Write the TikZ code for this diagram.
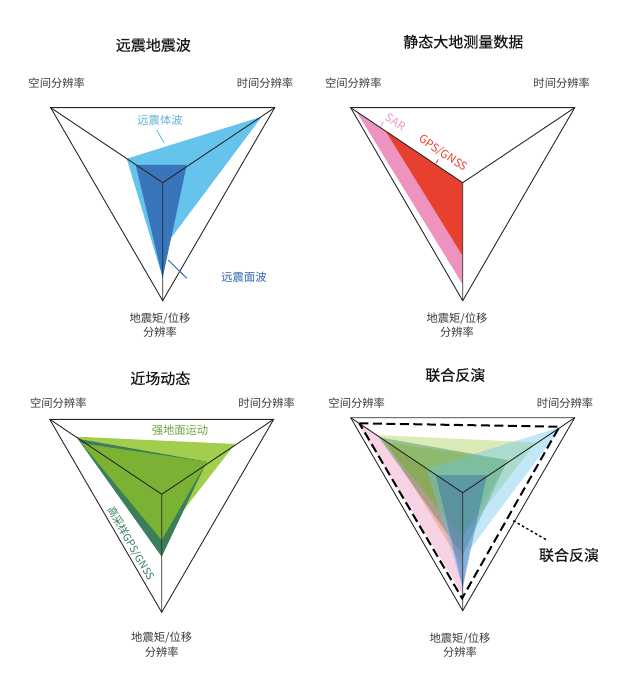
\documentclass[tikz,border=0pt]{standalone}
\usepackage{fontspec}
\setmainfont{Noto Sans CJK SC}
\newfontfamily\titlefont{Noto Sans CJK SC}[FakeBold=0.35]
\usetikzlibrary{calc}

\definecolor{lblue}{HTML}{66C4EC}
\definecolor{dblue}{HTML}{2D62AE}
\definecolor{sarpink}{HTML}{EE92BF}
\definecolor{gpsred}{HTML}{E8402F}
\definecolor{lgreen}{HTML}{A3CD4D}
\definecolor{mgreen}{HTML}{7CB233}
\definecolor{dgreen}{HTML}{3B7F5A}
\definecolor{txtgray}{HTML}{3A3A3A}

% triangle frame with its three spokes, local coordinates
\newcommand{\frametri}[1]{%
  \coordinate (#1tl) at (-112,-75);
  \coordinate (#1tr) at (112,-75);
  \coordinate (#1b) at (0,118);
  \coordinate (#1c) at (0,0);
  \draw[frame] (#1tl) -- (#1tr) -- (#1b) -- cycle;
  \draw[frame] (#1tl) -- (#1c) -- (#1tr) (#1c) -- (#1b);}

\newcommand{\farshapes}[1]{%
  \fill[lblue,#1] (-36,-24) -- (99,-66) -- (7,57) -- (0,95) -- cycle;
  \fill[dblue,fill opacity=0.8,#1] (-27,-17.7) -- (24,-17.7) -- (0,95) -- cycle;}
\newcommand{\geoshapes}[1]{%
  \fill[sarpink,#1] (-106.4,-71.3) -- (-77.3,-51.8) -- (0,73.3) -- (0,101.6) -- cycle;
  \fill[gpsred,#1] (-77.3,-51.8) -- (0,0) -- (0,73.3) -- cycle;}
\newcommand{\nearshapes}[1]{%
  \fill[lgreen,#1] (-85,-57.6) -- (73.3,-50.3) -- (0,44) -- cycle;
  \fill[dgreen,#1] (-84,-55.5) -- (45,-32.6) -- (0,62.4) -- cycle;
  \fill[mgreen,#1] (-80,-51) -- (45,-32.6) -- (0,45.7) -- cycle;}

\begin{document}
\begin{tikzpicture}[x=1pt,y=-1pt,
  frame/.style={line width=0.9pt,draw=black!85},
  title/.style={font=\titlefont\fontsize{15}{18}\selectfont,text=black!90},
  axlab/.style={font=\fontsize{11.3}{14.6}\selectfont,text=txtgray,align=center},
  tag/.style={font=\fontsize{11.3}{13}\selectfont},
  leader/.style={line width=0.9pt}]
\useasboundingbox (0,0) rectangle (641,692);

% panel 1
\begin{scope}[shift={(162.7,182.7)}]
\farshapes{}
\frametri{p1}
\end{scope}
\node[title] (t1) at (153.3,45) {远震地震波};
\node[axlab] (p1sp) at (56.7,83.3) {空间分辨率};
\node[axlab] (p1tm) at (265,83.3) {时间分辨率};
\node[axlab] (p1mo) at (160,325) {地震矩/位移\\分辨率};
\node[tag,text=lblue!90!black] (p1bw) at (160,120) {远震体波};
\node[tag,text=dblue] (p1sw) at (244,277.3) {远震面波};
\coordinate (bwa) at (156.7,130);
\coordinate (bwb) at (164,142.7);
\coordinate (swa) at (168.3,260);
\coordinate (swb) at (186.7,278.3);
\draw[leader,lblue] (bwa) -- (bwb);
\draw[leader,dblue] (swa) -- (swb);

% panel 2
\begin{scope}[shift={(462.7,182.7)}]
\geoshapes{}
\frametri{p2}
\end{scope}
\node[title] (t2) at (463.3,41.7) {静态大地测量数据};
\node[axlab] (p2sp) at (353.3,83.3) {空间分辨率};
\node[axlab] (p2tm) at (561.7,83.3) {时间分辨率};
\node[axlab] (p2mo) at (457,325) {地震矩/位移\\分辨率};
\node[tag,text=sarpink,rotate=-34,inner sep=0pt] (p2sar) at (395.7,122.3) {SAR};
\node[tag,text=gpsred,rotate=-34,inner sep=0pt] (p2gps) at (443.3,153.3) {GPS/GNSS};
\coordinate (sara) at (383.3,121.7);
\coordinate (sarb) at (380.7,126.7);
\coordinate (gpsa) at (438.3,159.3);
\coordinate (gpsb) at (436,163.3);
\draw[leader,sarpink] (sara) -- (sarb);
\draw[leader,gpsred] (gpsa) -- (gpsb);

% panel 3
\begin{scope}[shift={(161.7,494.3)}]
\nearshapes{}
\frametri{p3}
\end{scope}
\node[title] (t3) at (160.3,378.3) {近场动态};
\node[axlab] (p3sp) at (58.3,402.7) {空间分辨率};
\node[axlab] (p3tm) at (266.7,402.7) {时间分辨率};
\node[axlab] (p3mo) at (161.7,644.5) {地震矩/位移\\分辨率};
\node[tag,text=mgreen!70!dgreen] (p3sm) at (180,430) {强地面运动};
\node[tag,text=dgreen,font=\fontsize{10.5}{12}\selectfont,rotate=-60,inner sep=0pt] (p3hr) at (130.7,543.3) {高采样GPS/GNSS};

% panel 4
\begin{scope}[shift={(462.7,492.7)}]
\geoshapes{fill opacity=0.4}
\nearshapes{fill opacity=0.4}
\farshapes{fill opacity=0.4}
\frametri{p4}
\draw[line width=2pt,dash pattern=on 9pt off 4.5pt] (-103.3,-69.4) -- (96.7,-66) -- (-0.6,105.6) -- cycle;
\end{scope}
\node[title] (t4) at (455.3,375) {联合反演};
\node[axlab] (p4sp) at (356.7,402.7) {空间分辨率};
\node[axlab] (p4tm) at (565,402.7) {时间分辨率};
\node[axlab] (p4mo) at (460,645) {地震矩/位移\\分辨率};
\node[title] (p4ji) at (569,555) {联合反演};
\coordinate (jia) at (513.3,520.7);
\coordinate (jib) at (546.7,540);
\draw[line width=1.4pt,dash pattern=on 2.5pt off 2.5pt] (jia) -- (jib);
\end{tikzpicture}
\end{document}
